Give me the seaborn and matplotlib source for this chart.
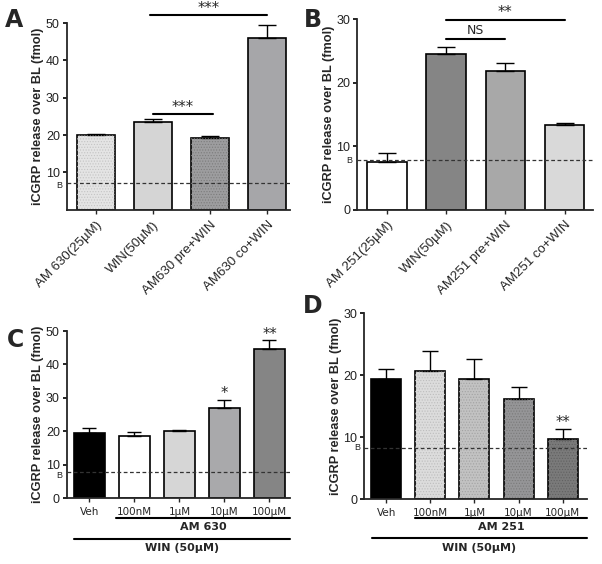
import seaborn as sns
import matplotlib.pyplot as plt
import matplotlib.transforms as mtransforms
from matplotlib.patches import Rectangle

# --- datos ---
labels_a = ["AM 630(25µM)", "WIN(50µM)", "AM630 pre+WIN", "AM630 co+WIN"]
vals_a = [20.0, 23.5, 19.1, 46.0]
err_a = [0.4, 0.7, 0.8, 3.4]
base_a = 7.2

labels_b = ["AM 251(25µM)", "WIN(50µM)", "AM251 pre+WIN", "AM251 co+WIN"]
vals_b = [7.6, 24.5, 21.8, 13.3]
err_b = [1.4, 1.1, 1.3, 0.4]
base_b = 7.8

labels_c = ["Veh", "100nM", "1µM", "10µM", "100µM"]
vals_c = [19.5, 18.7, 20.0, 27.0, 44.6]
err_c = [1.6, 1.1, 0.4, 2.3, 2.7]
base_c = 7.9

labels_d = ["Veh", "100nM", "1µM", "10µM", "100µM"]
vals_d = [19.4, 20.6, 19.4, 16.1, 9.7]
err_d = [1.6, 3.3, 3.2, 2.0, 1.6]
base_d = 8.3

sns.set_style("ticks")
plt.rcParams["font.family"] = ["Liberation Sans", "DejaVu Sans"]
plt.rcParams["hatch.linewidth"] = 0.5

fig = plt.figure(figsize=(6.02, 5.64), dpi=100)


def panel(rect, labels, vals, errs, colors, dots, base, ylim, yticks,
          xlim, width, capsize, letter, letter_pos, rotate, b_shift=0.0):
    ax = fig.add_axes(rect)
    sns.barplot(x=labels, y=vals, hue=labels, palette=colors, legend=False,
                errorbar=None, width=width, edgecolor="black", linewidth=1.2,
                ax=ax)
    # textura punteada suave encima de algunas barras
    for p, dc in zip(ax.patches, dots):
        if dc:
            ax.add_patch(Rectangle(p.get_xy(), p.get_width(), p.get_height(),
                                   fill=False, hatch="......", edgecolor=dc,
                                   lw=0, zorder=p.get_zorder() + 0.1))
    # barras de error solo hacia arriba
    ax.errorbar(range(len(vals)), vals, yerr=[[0] * len(vals), errs],
                fmt="none", ecolor="black", elinewidth=1.0, capsize=capsize,
                capthick=1.0, zorder=1)
    ax.axhline(base, color="#333333", lw=0.9, ls=(0, (3, 2)), zorder=5)
    trans = mtransforms.blended_transform_factory(ax.transAxes, ax.transData)
    ax.text(-0.02, base - b_shift, "B", transform=trans, ha="right",
            va="center", fontsize=6.5, color="#222222")
    ax.set_ylim(*ylim)
    ax.set_yticks(yticks)
    ax.set_xlim(*xlim)
    ax.set_ylabel("iCGRP release over BL (fmol)", fontsize=9.2,
                  fontweight="bold", labelpad=1)
    ax.tick_params(axis="y", labelsize=9, length=3, width=1.2, pad=2,
                   colors="black", labelcolor="#222222")
    ax.tick_params(axis="x", length=3, width=1.0)
    ax.set_xticks(range(len(labels)))
    if rotate:
        ax.set_xticklabels(labels, rotation=45, ha="right",
                           rotation_mode="anchor", fontsize=9.5)
    else:
        ax.set_xticklabels(labels, fontsize=7.5, family="DejaVu Sans")
    for s in ["left", "bottom"]:
        ax.spines[s].set_linewidth(1.3)
    sns.despine(ax=ax)
    fig.text(letter_pos[0], letter_pos[1], letter, fontsize=17,
             fontweight="bold", family="DejaVu Sans", ha="left", va="top")
    return ax


def bracket(ax, x1, x2, y, txt, ty, fs=10.5):
    ax.plot([x1, x2], [y, y], color="black", lw=1.5, clip_on=False)
    ax.text((x1 + x2) / 2, ty, txt, ha="center", va="center", fontsize=fs,
            family="DejaVu Sans")


def group_line(ax, x1, x2, y, txt, ty):
    tr = ax.get_xaxis_transform()
    ax.plot([x1, x2], [y, y], color="black", lw=1.5, transform=tr,
            clip_on=False)
    ax.text((x1 + x2) / 2, ty, txt, transform=tr, ha="center",
            va="center", fontsize=8, fontweight="bold", family="DejaVu Sans")


# Panel A
ax_a = panel([0.111, 0.628, 0.371, 0.331], labels_a, vals_a, err_a,
             ["#e4e4e4", "#d5d5d5", "#9d9d9f", "#a6a6a9"],
             ["#c4c4c4", None, "#7c7c7c", None], base_a, (0, 50),
             [10, 20, 30, 40, 50], (-0.51, 3.4), 0.67, 6.5, "A",
             (0.008, 0.985), True, b_shift=0.6)
bracket(ax_a, 0.95, 3.0, 52.1, "***", 54.0)
bracket(ax_a, 1.0, 2.05, 25.6, "***", 27.3)

# Panel B
ax_b = panel([0.593, 0.628, 0.392, 0.338], labels_b, vals_b, err_b,
             ["#ffffff", "#858585", "#a8a8a8", "#d9d9d9"],
             [None, None, None, None], base_b, (0, 30), [0, 10, 20, 30],
             (-0.51, 3.48), 0.67, 6.5, "B", (0.505, 0.985), True)
bracket(ax_b, 1.0, 3.0, 29.8, "**", 31.0)
bracket(ax_b, 1.0, 2.0, 26.9, "NS", 28.2, fs=9)

# Panel C
ax_c = panel([0.111, 0.117, 0.371, 0.296], labels_c, vals_c, err_c,
             ["#000000", "#ffffff", "#d6d6d6", "#a9a9ab", "#858585"],
             [None, None, None, None, None], base_c, (0, 50),
             [0, 10, 20, 30, 40, 50], (-0.5, 4.46), 0.68, 5, "C",
             (0.012, 0.418), False, b_shift=1.1)
ax_c.text(3, 31.2, "*", ha="center", va="center", fontsize=10.5,
          family="DejaVu Sans")
ax_c.text(4, 48.9, "**", ha="center", va="center", fontsize=10.5,
          family="DejaVu Sans")
group_line(ax_c, 0.6, 4.46, -0.12, "AM 630", -0.175)
group_line(ax_c, -0.33, 4.46, -0.245, "WIN (50µM)", -0.30)

# Panel D
ax_d = panel([0.605, 0.115, 0.370, 0.330], labels_d, vals_d, err_d,
             ["#000000", "#dcdcdc", "#c2c2c2", "#959597", "#7a7a7a"],
             [None, "#bdbdbd", "#a3a3a3", "#7a7a7a", "#616161"], base_d,
             (0, 30), [0, 10, 20, 30], (-0.5, 4.55), 0.68, 5.5, "D",
             (0.503, 0.478), False)
ax_d.text(4, 12.3, "**", ha="center", va="center", fontsize=10.5,
          family="DejaVu Sans")
group_line(ax_d, 0.66, 4.55, -0.102, "AM 251", -0.152)
group_line(ax_d, -0.32, 4.55, -0.209, "WIN (50µM)", -0.263)

fig.savefig("out.png", dpi=100)
